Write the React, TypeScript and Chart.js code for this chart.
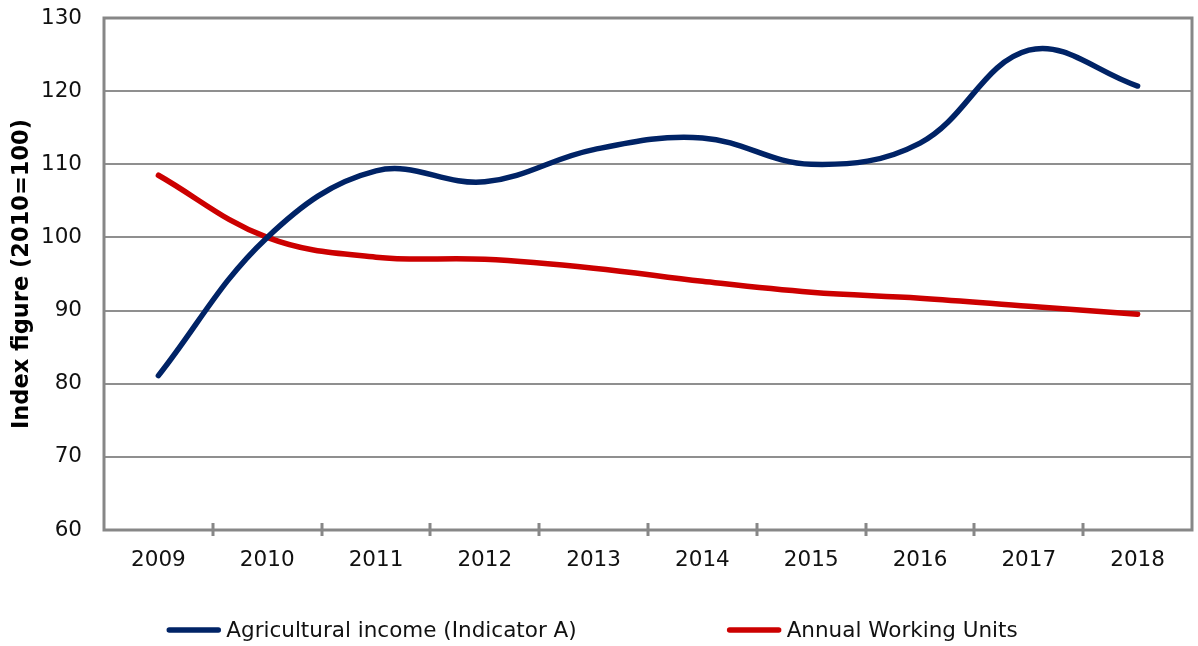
import React, { useEffect, useRef } from "react";
import { Chart, registerables } from "chart.js";

Chart.register(...registerables);

const categories = ["2009", "2010", "2011", "2012", "2013", "2014", "2015", "2016", "2017", "2018"];
const agriculturalIncome = [81.1, 100.0, 109.1, 107.6, 112.0, 113.6, 110.0, 112.9, 125.6, 120.7];
const annualWorkingUnits = [108.5, 100.0, 97.3, 97.0, 95.8, 94.0, 92.5, 91.7, 90.6, 89.5];
const seriesLabels = ["Agricultural income (Indicator A)", "Annual Working Units"];
const yTitle = "Index figure (2010=100)";

const FONT = "'DejaVu Sans', Verdana, sans-serif";
const GRID = "#8f8f8f";
const BORDER = "#878787";

const framePlugin = {
  id: "frameAndTicks",
  afterDatasetsDraw(chart: any) {
    const { ctx, chartArea } = chart;
    const x = chart.scales.x;
    ctx.save();
    ctx.strokeStyle = BORDER;
    ctx.lineWidth = 3;
    ctx.beginPath();
    ctx.moveTo(chartArea.left, chartArea.bottom);
    ctx.lineTo(chartArea.left, chartArea.top);
    ctx.lineTo(chartArea.right, chartArea.top);
    ctx.lineTo(chartArea.right, chartArea.bottom);
    ctx.lineTo(chartArea.left, chartArea.bottom);
    ctx.closePath();
    ctx.stroke();
    // crossing tick marks between categories
    for (let i = 1; i < categories.length; i++) {
      const px = Math.round(x.getPixelForValue(i - 0.5));
      ctx.beginPath();
      ctx.moveTo(px, chartArea.bottom - 7);
      ctx.lineTo(px, chartArea.bottom + 6);
      ctx.stroke();
    }
    ctx.restore();
  },
  afterDraw(chart: any) {
    const { ctx } = chart;
    const ds = chart.data.datasets;
    ctx.save();
    ctx.font = `21.5px ${FONT}`;
    ctx.textBaseline = "middle";
    ctx.textAlign = "left";
    const lineLen = 55;
    const gapText = 5;
    const gapItems = 150;
    const widths = ds.map((d: any) => lineLen + gapText + ctx.measureText(d.label).width);
    const total = widths.reduce((a: number, b: number) => a + b, 0) + gapItems * (ds.length - 1);
    let cx = 592 - total / 2;
    const cy = 630;
    ds.forEach((d: any, i: number) => {
      ctx.strokeStyle = d.borderColor;
      ctx.lineWidth = 5.5;
      ctx.lineCap = "round";
      ctx.beginPath();
      ctx.moveTo(cx + 3, cy);
      ctx.lineTo(cx + lineLen - 3, cy);
      ctx.stroke();
      ctx.fillStyle = "#111";
      ctx.fillText(d.label, cx + lineLen + gapText, cy + 1);
      cx += widths[i] + gapItems;
    });
    ctx.restore();
  },
};

export default function App() {
  const ref = useRef<HTMLCanvasElement | null>(null);
  useEffect(() => {
    document.body.style.margin = "0";
    if (!ref.current) return;
    const chart = new Chart(ref.current, {
      type: "line",
      data: {
        labels: categories,
        datasets: [
          {
            label: seriesLabels[0],
            data: agriculturalIncome,
            borderColor: "#002366",
            backgroundColor: "#002366",
            borderWidth: 5.5,
            borderCapStyle: "round",
            tension: 0.38,
            pointRadius: 0,
            fill: false,
          },
          {
            label: seriesLabels[1],
            data: annualWorkingUnits,
            borderColor: "#cc0000",
            backgroundColor: "#cc0000",
            borderWidth: 5.5,
            borderCapStyle: "round",
            tension: 0.38,
            pointRadius: 0,
            fill: false,
          },
        ],
      },
      options: {
        responsive: false,
        animation: false,
        layout: { padding: { left: 0, right: 6, top: 18, bottom: 76 } },
        plugins: {
          legend: { display: false },
          tooltip: { enabled: false },
        },
        scales: {
          x: {
            offset: true,
            grid: { display: false, offset: true },
            border: { display: false },
            ticks: {
              color: "#111",
              font: { family: FONT, size: 21.5 },
              padding: 10,
              maxRotation: 0,
            },
            afterFit(scale: any) {
              scale.height = 40;
            },
          },
          y: {
            min: 60,
            max: 130,
            grid: { color: GRID, lineWidth: 2, drawTicks: false },
            border: { display: false },
            ticks: {
              stepSize: 10,
              color: "#111",
              font: { family: FONT, size: 21.5 },
              padding: 22,
            },
            title: {
              display: true,
              text: yTitle,
              color: "#000",
              font: { family: FONT, size: 22.5, weight: "bold" },
              padding: { top: 9, bottom: 0 },
            },
            afterFit(scale: any) {
              scale.width = 104;
              scale.paddingTop = 0;
              scale.paddingBottom = 0;
            },
          },
        },
      },
      plugins: [framePlugin],
    } as any);
    return () => chart.destroy();
  }, []);
  return (
    <div style={{ width: 1198, height: 646 }}>
      <canvas ref={ref} width={1198} height={646} />
    </div>
  );
}
